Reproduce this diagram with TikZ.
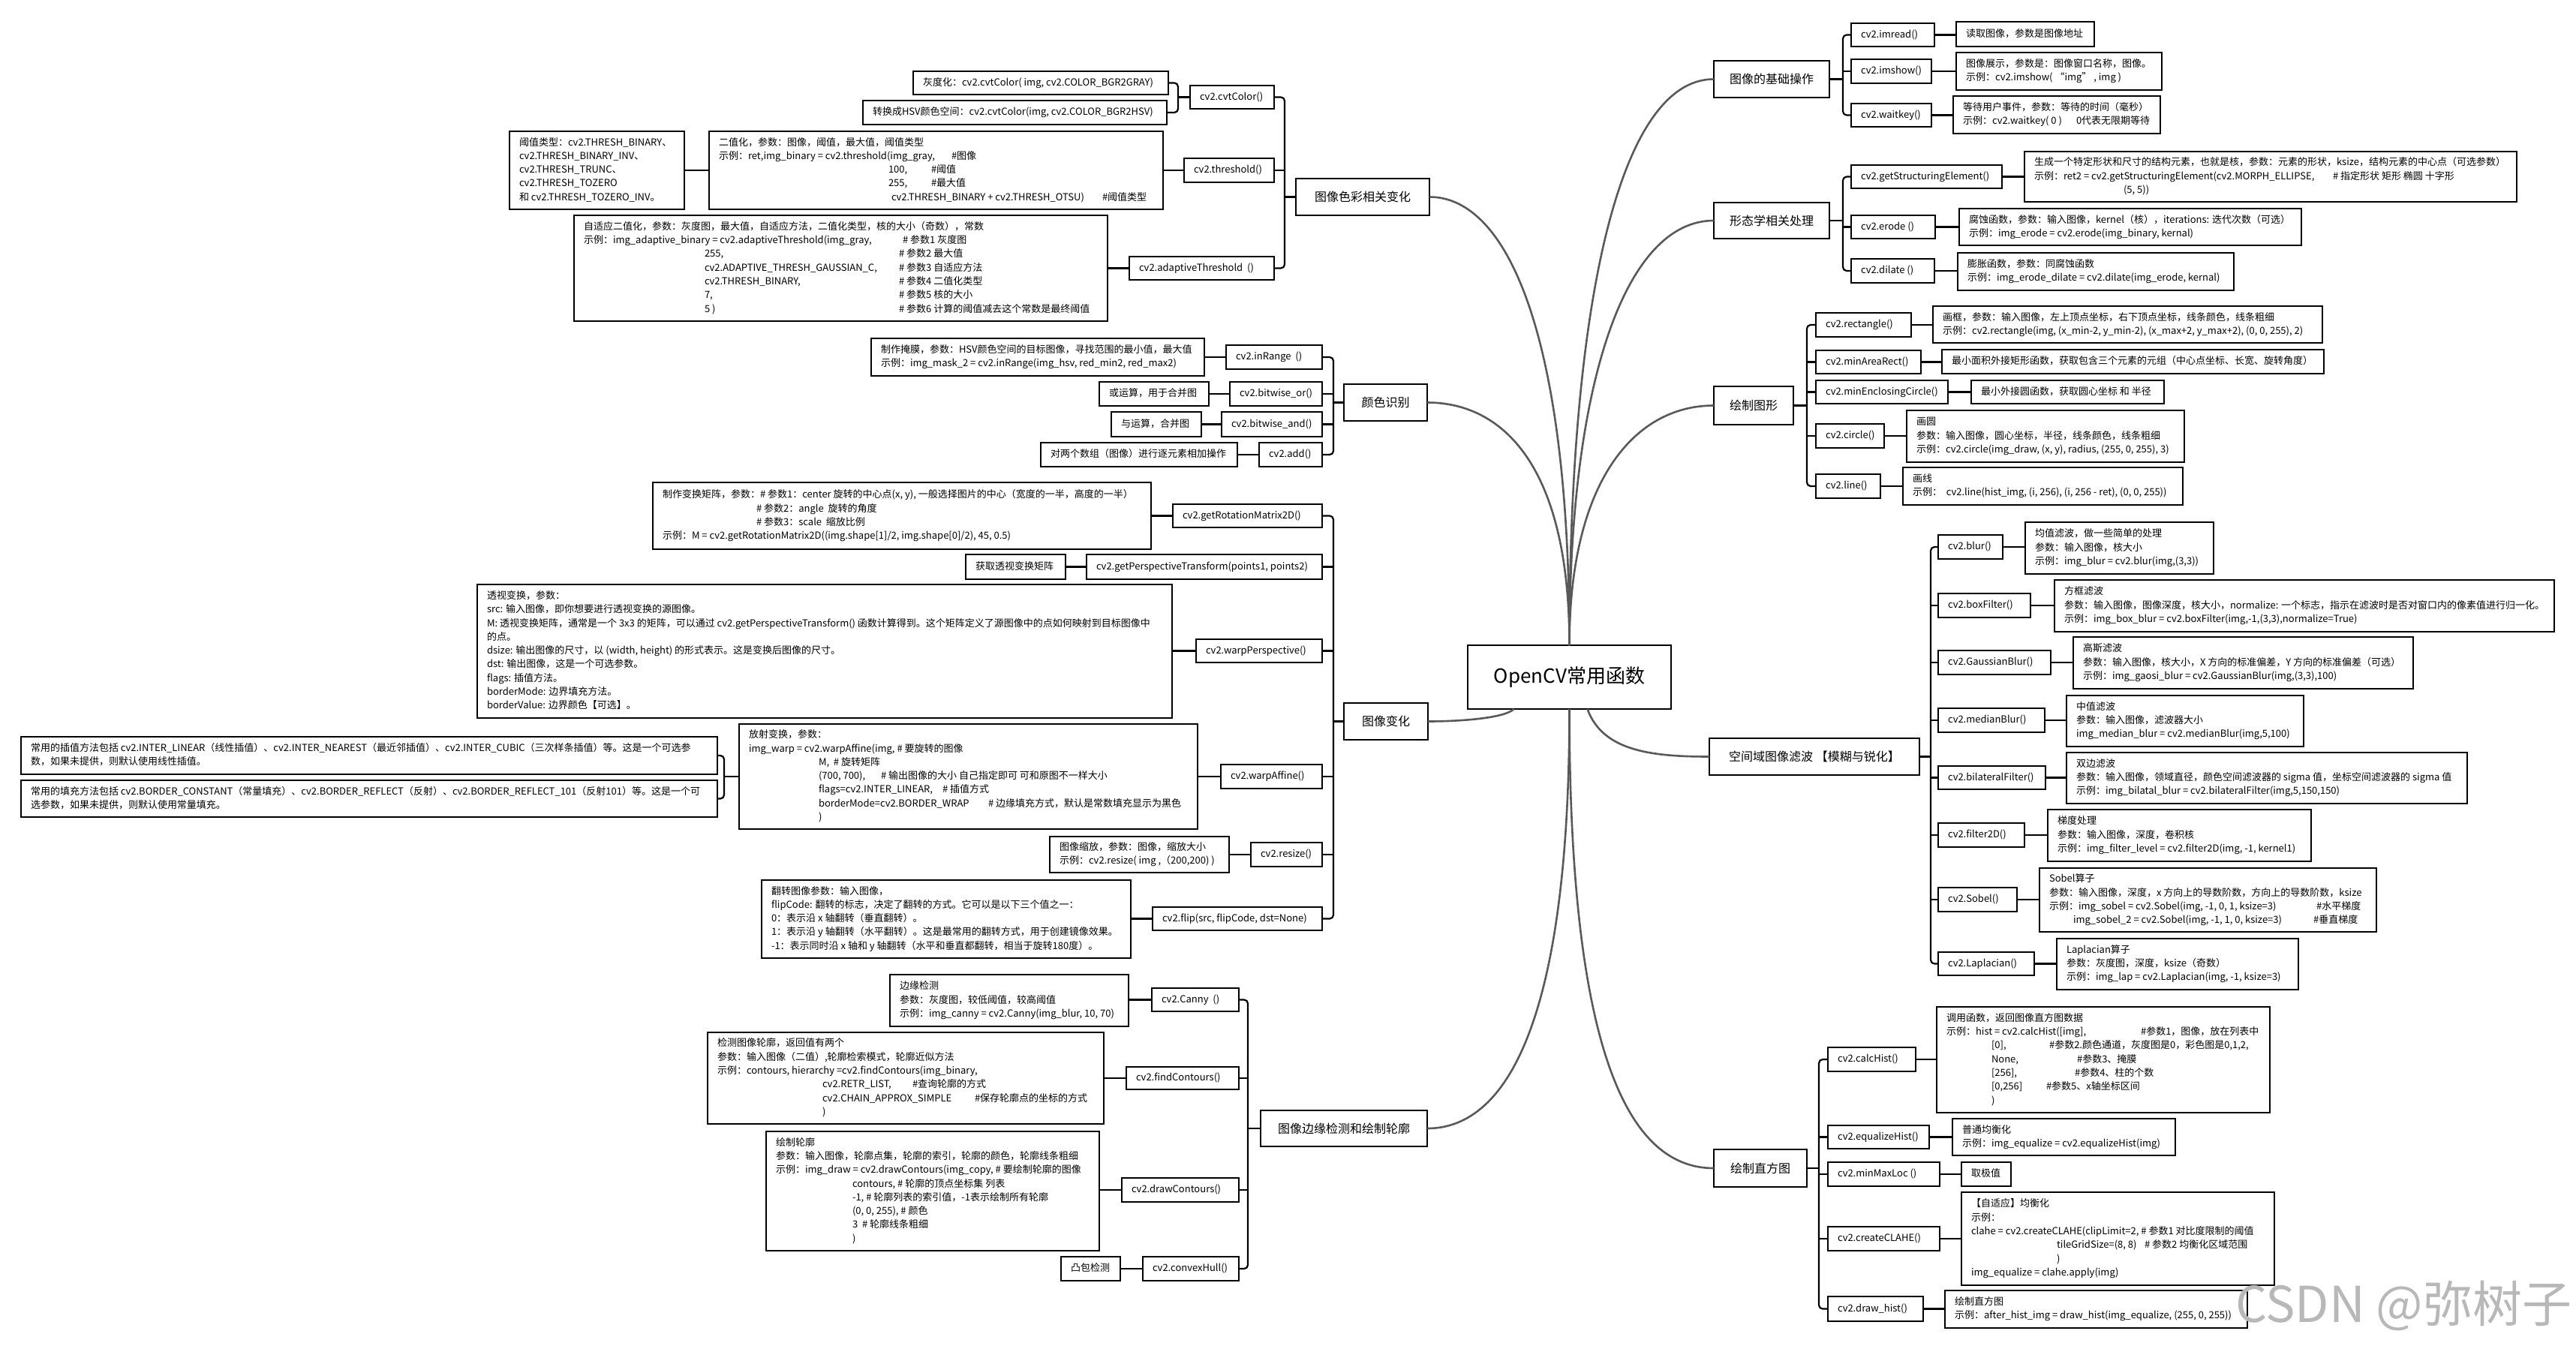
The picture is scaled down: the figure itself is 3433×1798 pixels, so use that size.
\documentclass[tikz,border=0pt]{standalone}
\usepackage{fontspec}
\setmainfont{Noto Sans CJK SC}
\newcommand\detfont{\fontsize{13pt}{18.3pt}\selectfont}
\newcommand\brfont{\fontsize{16pt}{20pt}\selectfont}
\newcommand\rootfont{\fontsize{26pt}{30pt}\selectfont}
\newcommand\atx[2]{\makebox[0pt][l]{\hspace*{#1pt}#2}}
\tikzset{
  box/.style={draw=black, line width=1.5pt, fill=white, inner xsep=13pt, inner ysep=0pt, outer sep=0pt, font=\detfont},
  branch/.style={font=\brfont},
  rootbox/.style={line width=2.2pt, font=\rootfont},
  brk/.style={draw=black, line width=2.2pt, rounded corners=5pt},
  stub/.style={draw=black, line width=2.6pt},
  maincurve/.style={draw=black!65, line width=2.6pt},
}
\newcommand\bx[7][]{%
  \pgfmathsetmacro\bxw{#5-#3}\pgfmathsetmacro\bxh{#6-#4}\pgfmathsetmacro\bxt{#5-#3-26}%
  \node[box,#1,anchor=north west,minimum width=\bxw pt,minimum height=\bxh pt] (#2) at (#3,#4)
    {\parbox{\bxt pt}{\begin{tabular}{@{}l@{}}#7\end{tabular}}};}
\newcommand\bc[7][]{%
  \pgfmathsetmacro\bxw{#5-#3}\pgfmathsetmacro\bxh{#6-#4}\pgfmathsetmacro\bxt{#5-#3-26}%
  \node[box,#1,anchor=north west,minimum width=\bxw pt,minimum height=\bxh pt] (#2) at (#3,#4)
    {\parbox{\bxt pt}{\centering #7}};}
\begin{document}
\begin{tikzpicture}[x=1pt,y=-1pt]
\path[use as bounding box, fill=white] (0,0) rectangle (3433,1798);

% ---------------- root ----------------
\bc[rootbox]{root}{1956}{860}{2227}{945}{OpenCV常用函数}

% ---------------- right: 图像的基础操作 ----------------
\bc[branch]{R1}{2284}{81}{2438}{130}{图像的基础操作}
\bx{imread}{2467}{31}{2578}{62}{cv2.imread()}
\bx{dimread}{2607}{29}{2791}{62}{读取图像，参数是图像地址}
\bx{imshow}{2467}{79}{2574}{111}{cv2.imshow()}
\bx{dimshow}{2607}{70}{2881}{120}{图像展示，参数是：图像窗口名称，图像。\\示例：cv2.imshow( “img” , img )}
\bx{waitkey}{2467}{138}{2574}{169}{cv2.waitkey()}
\bx{dwaitkey}{2603}{128}{2879}{178}{等待用户事件，参数：等待的时间（毫秒）\\\atx{0}{示例：cv2.waitkey( 0 )}\atx{151}{0代表无限期等待}}

% ---------------- right: 形态学相关处理 ----------------
\bc[branch]{R2}{2284}{270}{2438}{318}{形态学相关处理}
\bx{getse}{2467}{220}{2668}{251}{cv2.getStructuringElement()}
\bx{dgetse}{2698}{202}{3354}{269}{生成一个特定形状和尺寸的结构元素，也就是核，参数：元素的形状，ksize，结构元素的中心点（可选参数）\\\atx{0}{示例：ret2 = cv2.getStructuringElement(cv2.MORPH\_ELLIPSE,}\atx{398}{\# 指定形状 矩形 椭圆 十字形}\\\atx{119}{(5, 5))}}
\bx{erode}{2467}{287}{2579}{318}{cv2.erode ()}
\bx{derode}{2611}{278}{3067}{327}{腐蚀函数，参数：输入图像，kernel（核），iterations: 迭代次数（可选）\\示例：img\_erode = cv2.erode(img\_binary, kernal)}
\bx{dilate}{2467}{345}{2578}{377}{cv2.dilate ()}
\bx{ddilate}{2609}{337}{2977}{387}{膨胀函数，参数：同腐蚀函数\\示例：img\_erode\_dilate = cv2.dilate(img\_erode, kernal)}

% ---------------- right: 绘制图形 ----------------
\bc[branch]{R3}{2284}{515}{2390}{566}{绘制图形}
\bx{rect}{2420}{417}{2547}{449}{cv2.rectangle()}
\bx{drect}{2576}{408}{3095}{457}{画框，参数：输入图像，左上顶点坐标，右下顶点坐标，线条颜色，线条粗细\\示例：cv2.rectangle(img, (x\_min-2, y\_min-2), (x\_max+2, y\_max+2), (0, 0, 255), 2)}
\bx{minarea}{2420}{467}{2560}{498}{cv2.minAreaRect()}
\bx{dminarea}{2588}{466}{3097}{498}{最小面积外接矩形函数，获取包含三个元素的元组（中心点坐标、长宽、旋转角度）}
\bx{mincircle}{2420}{507}{2596}{538}{cv2.minEnclosingCircle()}
\bx{dmincircle}{2627}{507}{2884}{538}{最小外接圆函数，获取圆心坐标 和 半径}
\bx{circle}{2420}{565}{2511}{597}{cv2.circle()}
\bx{dcircle}{2541}{547}{2911}{616}{画圆\\参数：输入图像，圆心坐标，半径，线条颜色，线条粗细\\示例：cv2.circle(img\_draw, (x, y), radius, (255, 0, 255), 3)}
\bx{cline}{2420}{632}{2506}{664}{cv2.line()}
\bx{dcline}{2536}{623}{2909}{673}{画线\\示例：\ \ cv2.line(hist\_img, (i, 256), (i, 256 - ret), (0, 0, 255))}

% ---------------- right: 空间域图像滤波 ----------------
\bc[branch]{R4}{2278}{984}{2558}{1033}{空间域图像滤波 【模糊与锐化】}
\bx{blur}{2583}{713}{2669}{745}{cv2.blur()}
\bx{dblur}{2699}{696}{2950}{765}{均值滤波，做一些简单的处理\\参数：输入图像，核大小\\示例：img\_blur = cv2.blur(img,(3,3))}
\bx{boxf}{2583}{791}{2706}{823}{cv2.boxFilter()}
\bx{dboxf}{2738}{773}{3404}{842}{方框滤波\\参数：输入图像，图像深度，核大小，normalize: 一个标志，指示在滤波时是否对窗口内的像素值进行归一化。\\示例：img\_box\_blur = cv2.boxFilter(img,-1,(3,3),normalize=True)}
\bx{gauss}{2583}{867}{2733}{899}{cv2.GaussianBlur()}
\bx{dgauss}{2763}{849}{3216}{918}{高斯滤波\\参数：输入图像，核大小，X 方向的标准偏差，Y 方向的标准偏差（可选）\\示例：img\_gaosi\_blur = cv2.GaussianBlur(img,(3,3),100)}
\bx{median}{2583}{944}{2725}{976}{cv2.medianBlur()}
\bx{dmedian}{2754}{927}{3070}{995}{中值滤波\\参数：输入图像，滤波器大小\\img\_median\_blur = cv2.medianBlur(img,5,100)}
\bx{bilat}{2583}{1021}{2726}{1052}{cv2.bilateralFilter()}
\bx{dbilat}{2754}{1003}{3288}{1071}{双边滤波\\参数：输入图像，领域直径，颜色空间滤波器的 sigma 值，坐标空间滤波器的 sigma 值\\示例：img\_bilatal\_blur = cv2.bilateralFilter(img,5,150,150)}
\bx{ftwod}{2583}{1097}{2698}{1129}{cv2.filter2D()}
\bx{dftwod}{2729}{1079}{3080}{1148}{梯度处理\\参数：输入图像，深度，卷积核\\示例：img\_filter\_level = cv2.filter2D(img, -1, kernel1)}
\bx{sobel}{2583}{1183}{2688}{1215}{cv2.Sobel()}
\bx{dsobel}{2718}{1157}{3167}{1242}{Sobel算子\\参数：输入图像，深度，x 方向上的导数阶数，方向上的导数阶数，ksize\\\atx{0}{示例：img\_sobel = cv2.Sobel(img, -1, 0, 1, ksize=3)}\atx{356}{\#水平梯度}\\\atx{32}{img\_sobel\_2 = cv2.Sobel(img, -1, 1, 0, ksize=3)}\atx{352}{\#垂直梯度}}
\bx{lap}{2583}{1269}{2711}{1300}{cv2.Laplacian()}
\bx{dlap}{2741}{1251}{3063}{1319}{Laplacian算子\\参数：灰度图，深度，ksize（奇数）\\示例：img\_lap = cv2.Laplacian(img, -1, ksize=3)}

% ---------------- right: 绘制直方图 ----------------
\bc[branch]{R5}{2284}{1532}{2408}{1582}{绘制直方图}
\bx{calc}{2436}{1396}{2553}{1428}{cv2.calcHist()}
\bx{dcalc}{2581}{1342}{3025}{1483}{调用函数，返回图像直方图数据\\\atx{0}{示例：hist = cv2.calcHist([img],}\atx{259}{\#参数1，图像，放在列表中}\\\atx{60}{[0],}\atx{137}{\#参数2.颜色通道，灰度图是0，彩色图是0,1,2,}\\\atx{60}{None,}\atx{174}{\#参数3、掩膜}\\\atx{60}{[256],}\atx{171}{\#参数4、柱的个数}\\\atx{60}{[0,256]}\atx{133}{\#参数5、x轴坐标区间}\\\atx{60}{)}}
\bx{eqh}{2436}{1500}{2571}{1531}{cv2.equalizeHist()}
\bx{deqh}{2602}{1491}{2899}{1540}{普通均衡化\\示例：img\_equalize = cv2.equalizeHist(img)}
\bx{mml}{2436}{1549}{2585}{1581}{cv2.minMaxLoc ()}
\bx{dmml}{2614}{1549}{2680}{1581}{取极值}
\bx{clahe}{2436}{1635}{2585}{1667}{cv2.createCLAHE()}
\bx{dclahe}{2614}{1589}{3031}{1713}{【自适应】均衡化\\示例：\\clahe = cv2.createCLAHE(clipLimit=2, \# 参数1 对比度限制的阈值\\\atx{114}{tileGridSize=(8, 8)}\atx{231}{\# 参数2 均衡化区域范围}\\\atx{114}{)}\\img\_equalize = clahe.apply(img)}
\bx{dhist}{2436}{1728}{2563}{1761}{cv2.draw\_hist()}
\bx{ddhist}{2592}{1720}{2995}{1770}{绘制直方图\\示例：after\_hist\_img = draw\_hist(img\_equalize, (255, 0, 255))}

% ---------------- left: 图像色彩相关变化 ----------------
\bc[branch]{L1}{1727}{238}{1905}{287}{图像色彩相关变化}
\bx{cvt}{1586}{114}{1698}{145}{cv2.cvtColor()}
\bx{gray}{1217}{95}{1557}{126}{灰度化：cv2.cvtColor( img, cv2.COLOR\_BGR2GRAY)}
\bx{hsv}{1150}{134}{1555}{166}{转换成HSV颜色空间：cv2.cvtColor(img, cv2.COLOR\_BGR2HSV)}
\bx{thr}{1578}{211}{1698}{243}{cv2.threshold()}
\bx{dthr}{945}{175}{1550}{279}{二值化，参数：图像，阈值，最大值，阈值类型\\\atx{0}{示例：ret,img\_binary = cv2.threshold(img\_gray,}\atx{310}{\#图像}\\\atx{226}{100,}\atx{283}{\#阈值}\\\atx{226}{255,}\atx{283}{\#最大值}\\\atx{230}{cv2.THRESH\_BINARY + cv2.THRESH\_OTSU)}\atx{511}{\#阈值类型}}
\bx{ttypes}{679}{175}{912}{279}{阈值类型：cv2.THRESH\_BINARY、\\cv2.THRESH\_BINARY\_INV、\\cv2.THRESH\_TRUNC、\\cv2.THRESH\_TOZERO\\和 cv2.THRESH\_TOZERO\_INV。}
\bx{adap}{1505}{342}{1698}{373}{cv2.adaptiveThreshold\ \ ()}
\bx{dadap}{765}{287}{1476}{428}{自适应二值化，参数：灰度图，最大值，自适应方法，二值化类型，核的大小（奇数），常数\\\atx{0}{示例：img\_adaptive\_binary = cv2.adaptiveThreshold(img\_gray,}\atx{425}{\# 参数1 灰度图}\\\atx{161}{255,}\atx{420}{\# 参数2 最大值}\\\atx{161}{cv2.ADAPTIVE\_THRESH\_GAUSSIAN\_C,}\atx{420}{\# 参数3 自适应方法}\\\atx{161}{cv2.THRESH\_BINARY,}\atx{420}{\# 参数4 二值化类型}\\\atx{161}{7,}\atx{420}{\# 参数5 核的大小}\\\atx{161}{5 )}\atx{420}{\# 参数6 计算的阈值减去这个常数是最终阈值}}

% ---------------- left: 颜色识别 ----------------
\bc[branch]{L2}{1791}{512}{1902}{561}{颜色识别}
\bx{inrange}{1634}{460}{1762}{492}{cv2.inRange\ \ ()}
\bx{dinrange}{1161}{451}{1605}{501}{制作掩膜，参数：HSV颜色空间的目标图像，寻找范围的最小值，最大值\\示例：img\_mask\_2 = cv2.inRange(img\_hsv, red\_min2, red\_max2)}
\bx{bor}{1639}{509}{1762}{541}{cv2.bitwise\_or()}
\bx{dbor}{1465}{509}{1611}{541}{或运算，用于合并图}
\bx{band}{1628}{549}{1762}{582}{cv2.bitwise\_and()}
\bx{dband}{1481}{549}{1601}{582}{与运算，合并图}
\bx{add}{1678}{590}{1762}{622}{cv2.add()}
\bx{dadd}{1387}{590}{1649}{622}{对两个数组（图像）进行逐元素相加操作}

% ---------------- left: 图像变化 ----------------
\bc[branch]{L3}{1791}{937}{1903}{986}{图像变化}
\bx{rot}{1563}{672}{1762}{703}{cv2.getRotationMatrix2D()}
\bx{drot}{870}{643}{1534}{732}{制作变换矩阵，参数：\# 参数1：center 旋转的中心点(x, y), 一般选择图片的中心（宽度的一半，高度的一半）\\\atx{125}{\# 参数2：angle\ \ 旋转的角度}\\\atx{125}{\# 参数3：scale\ \ 缩放比例}\\示例：M = cv2.getRotationMatrix2D((img.shape[1]/2, img.shape[0]/2), 45, 0.5)}
\bx{gpt}{1448}{739}{1762}{772}{cv2.getPerspectiveTransform(points1, points2)}
\bx{dgpt}{1287}{739}{1420}{772}{获取透视变换矩阵}
\bx{wp}{1594}{852}{1762}{883}{cv2.warpPerspective()}
\bx{dwp}{636}{779}{1562}{957}{透视变换，参数：\\src: 输入图像，即你想要进行透视变换的源图像。\\M: 透视变换矩阵，通常是一个 3x3 的矩阵，可以通过 cv2.getPerspectiveTransform() 函数计算得到。这个矩阵定义了源图像中的点如何映射到目标图像中\\的点。\\dsize: 输出图像的尺寸，以 (width, height) 的形式表示。这是变换后图像的尺寸。\\dst: 输出图像，这是一个可选参数。\\flags: 插值方法。\\borderMode: 边界填充方法。\\borderValue: 边界颜色【可选】。}
\bx{wa}{1627}{1019}{1762}{1051}{cv2.warpAffine()}
\bx{dwa}{985}{965}{1596}{1105}{放射变换，参数：\\img\_warp = cv2.warpAffine(img, \# 要旋转的图像\\\atx{93}{M,\ \ \# 旋转矩阵}\\\atx{93}{(700, 700),}\atx{176}{\# 输出图像的大小 自己指定即可 可和原图不一样大小}\\\atx{93}{flags=cv2.INTER\_LINEAR,}\atx{258}{\# 插值方式}\\\atx{93}{borderMode=cv2.BORDER\_WRAP}\atx{319}{\# 边缘填充方式，默认是常数填充显示为黑色}\\\atx{93}{)}}
\bx{interp}{28}{982}{956}{1032}{常用的插值方法包括 cv2.INTER\_LINEAR（线性插值）、cv2.INTER\_NEAREST（最近邻插值）、cv2.INTER\_CUBIC（三次样条插值）等。这是一个可选参\\数，如果未提供，则默认使用线性插值。}
\bx{border}{28}{1040}{956}{1089}{常用的填充方法包括 cv2.BORDER\_CONSTANT（常量填充）、cv2.BORDER\_REFLECT（反射）、cv2.BORDER\_REFLECT\_101（反射101）等。这是一个可\\选参数，如果未提供，则默认使用常量填充。}
\bx{rsz}{1667}{1123}{1762}{1155}{cv2.resize()}
\bx{drsz}{1399}{1115}{1638}{1163}{图像缩放，参数：图像，缩放大小\\示例：cv2.resize( img ,（200,200) )}
\bx{flip}{1536}{1209}{1762}{1240}{cv2.flip(src, flipCode, dst=None)}
\bx{dflip}{1015}{1173}{1507}{1277}{翻转图像参数：输入图像，\\flipCode: 翻转的标志，决定了翻转的方式。它可以是以下三个值之一：\\0：表示沿 x 轴翻转（垂直翻转）。\\1：表示沿 y 轴翻转（水平翻转）。这是最常用的翻转方式，用于创建镜像效果。\\-1：表示同时沿 x 轴和 y 轴翻转（水平和垂直都翻转，相当于旋转180度）。}

% ---------------- left: 图像边缘检测和绘制轮廓 ----------------
\bc[branch]{L4}{1680}{1480}{1902}{1528}{图像边缘检测和绘制轮廓}
\bx{canny}{1535}{1317}{1651}{1348}{cv2.Canny\ \ ()}
\bx{dcanny}{1186}{1299}{1504}{1368}{边缘检测\\参数：灰度图，较低阈值，较高阈值\\示例：img\_canny = cv2.Canny(img\_blur, 10, 70)}
\bx{fc}{1501}{1422}{1651}{1452}{cv2.findContours()}
\bx{dfc}{943}{1376}{1471}{1498}{检测图像轮廓，返回值有两个\\参数：输入图像（二值）,轮廓检索模式，轮廓近似方法\\示例：contours, hierarchy =cv2.findContours(img\_binary,\\\atx{140}{cv2.RETR\_LIST,}\atx{260}{\#查询轮廓的方式}\\\atx{140}{cv2.CHAIN\_APPROX\_SIMPLE}\atx{343}{\#保存轮廓点的坐标的方式}\\\atx{140}{)}}
\bx{dc}{1495}{1570}{1651}{1602}{cv2.drawContours()}
\bx{ddc}{1021}{1508}{1465}{1667}{绘制轮廓\\参数：输入图像，轮廓点集，轮廓的索引，轮廓的颜色，轮廓线条粗细\\示例：img\_draw = cv2.drawContours(img\_copy, \# 要绘制轮廓的图像\\\atx{102}{contours, \# 轮廓的顶点坐标集 列表}\\\atx{102}{-1, \# 轮廓列表的索引值，-1表示绘制所有轮廓}\\\atx{102}{(0, 0, 255), \# 颜色}\\\atx{102}{3\ \ \# 轮廓线条粗细}\\\atx{102}{)}}
\bx{hull}{1523}{1675}{1651}{1707}{cv2.convexHull()}
\bx{dhull}{1414}{1675}{1493}{1707}{凸包检测}

% ---------------- main curves ----------------
\draw[maincurve] (root.north) .. controls +(0,-410) and +(105,0) .. (L1.east);
\draw[maincurve] (root.north) .. controls +(0,-240) and +(100,0) .. (L2.east);
\draw[maincurve] (root.north) .. controls +(0,-460) and +(-125,0) .. (R1.west);
\draw[maincurve] (root.north) .. controls +(0,-360) and +(-115,0) .. (R2.west);
\draw[maincurve] (root.north) .. controls +(0,-220) and +(-105,0) .. (R3.west);
\draw[maincurve] (root.south) .. controls +(0,405) and +(110,0) .. (L4.east);
\draw[maincurve] (root.south) .. controls +(0,455) and +(-115,0) .. (R5.west);
\draw[maincurve] (root.south) ++(-74,0) .. controls +(-12,12) and +(45,0) .. (L3.east);
\draw[maincurve] (root.south) ++(24,0) .. controls +(20,55) and +(-80,0) .. (R4.west);

% ---------------- right brackets ----------------
\path (R1.east) ++(18,0) coordinate (j1);
\draw[brk] (R1.east) -- (j1);
\draw[brk] (imread.west) -| (j1) |- (waitkey.west);
\draw[brk] (j1 |- imshow.west) -- (imshow.west);
\draw[stub] (imread.east) -- (imread.east -| dimread.west);
\draw[stub] (imshow.east) -- (imshow.east -| dimshow.west);
\draw[stub] (waitkey.east) -- (waitkey.east -| dwaitkey.west);

\path (R2.east) ++(18,0) coordinate (j2);
\draw[brk] (R2.east) -- (j2);
\draw[brk] (getse.west) -| (j2) |- (dilate.west);
\draw[brk] (j2 |- erode.west) -- (erode.west);
\draw[stub] (getse.east) -- (getse.east -| dgetse.west);
\draw[stub] (erode.east) -- (erode.east -| derode.west);
\draw[stub] (dilate.east) -- (dilate.east -| ddilate.west);

\path (R3.east) ++(18,0) coordinate (j3);
\draw[brk] (R3.east) -- (j3);
\draw[brk] (rect.west) -| (j3) |- (cline.west);
\draw[brk] (j3 |- minarea.west) -- (minarea.west);
\draw[brk] (j3 |- mincircle.west) -- (mincircle.west);
\draw[brk] (j3 |- circle.west) -- (circle.west);
\draw[stub] (rect.east) -- (rect.east -| drect.west);
\draw[stub] (minarea.east) -- (minarea.east -| dminarea.west);
\draw[stub] (mincircle.east) -- (mincircle.east -| dmincircle.west);
\draw[stub] (circle.east) -- (circle.east -| dcircle.west);
\draw[stub] (cline.east) -- (cline.east -| dcline.west);

\path (R4.east) ++(15,0) coordinate (j4);
\draw[brk] (R4.east) -- (j4);
\draw[brk] (blur.west) -| (j4) |- (lap.west);
\draw[brk] (j4 |- boxf.west) -- (boxf.west);
\draw[brk] (j4 |- gauss.west) -- (gauss.west);
\draw[brk] (j4 |- median.west) -- (median.west);
\draw[brk] (j4 |- bilat.west) -- (bilat.west);
\draw[brk] (j4 |- ftwod.west) -- (ftwod.west);
\draw[brk] (j4 |- sobel.west) -- (sobel.west);
\draw[stub] (blur.east) -- (blur.east -| dblur.west);
\draw[stub] (boxf.east) -- (boxf.east -| dboxf.west);
\draw[stub] (gauss.east) -- (gauss.east -| dgauss.west);
\draw[stub] (median.east) -- (median.east -| dmedian.west);
\draw[stub] (bilat.east) -- (bilat.east -| dbilat.west);
\draw[stub] (ftwod.east) -- (ftwod.east -| dftwod.west);
\draw[stub] (sobel.east) -- (sobel.east -| dsobel.west);
\draw[stub] (lap.east) -- (lap.east -| dlap.west);

\path (R5.east) ++(16,0) coordinate (j5);
\draw[brk] (R5.east) -- (j5);
\draw[brk] (calc.west) -| (j5) |- (dhist.west);
\draw[brk] (j5 |- eqh.west) -- (eqh.west);
\draw[brk] (j5 |- mml.west) -- (mml.west);
\draw[brk] (j5 |- clahe.west) -- (clahe.west);
\draw[stub] (calc.east) -- (calc.east -| dcalc.west);
\draw[stub] (eqh.east) -- (eqh.east -| deqh.west);
\draw[stub] (mml.east) -- (mml.east -| dmml.west);
\draw[stub] (clahe.east) -- (clahe.east -| dclahe.west);
\draw[stub] (dhist.east) -- (dhist.east -| ddhist.west);

% ---------------- left brackets ----------------
\path (L1.west) ++(-15,0) coordinate (k1);
\draw[brk] (L1.west) -- (k1);
\draw[brk] (cvt.east) -| (k1) |- (adap.east);
\draw[brk] (k1 |- thr.east) -- (thr.east);
\path (cvt.west) ++(-16,0) coordinate (c1);
\draw[brk] (cvt.west) -- (c1);
\draw[brk] (gray.east) -| (c1) |- (hsv.east);
\draw[stub] (thr.west) -- (thr.west -| dthr.east);
\draw[stub] (dthr.west) -- (dthr.west -| ttypes.east);
\draw[stub] (adap.west) -- (adap.west -| dadap.east);

\path (L2.west) ++(-14,0) coordinate (k2);
\draw[brk] (L2.west) -- (k2);
\draw[brk] (inrange.east) -| (k2) |- (add.east);
\draw[brk] (k2 |- bor.east) -- (bor.east);
\draw[brk] (k2 |- band.east) -- (band.east);
\draw[stub] (inrange.west) -- (inrange.west -| dinrange.east);
\draw[stub] (bor.west) -- (bor.west -| dbor.east);
\draw[stub] (band.west) -- (band.west -| dband.east);
\draw[stub] (add.west) -- (add.west -| dadd.east);

\path (L3.west) ++(-14,0) coordinate (k3);
\draw[brk] (L3.west) -- (k3);
\draw[brk] (rot.east) -| (k3) |- (flip.east);
\draw[brk] (k3 |- gpt.east) -- (gpt.east);
\draw[brk] (k3 |- wp.east) -- (wp.east);
\draw[brk] (k3 |- wa.east) -- (wa.east);
\draw[brk] (k3 |- rsz.east) -- (rsz.east);
\draw[stub] (rot.west) -- (rot.west -| drot.east);
\draw[stub] (gpt.west) -- (gpt.west -| dgpt.east);
\draw[stub] (wp.west) -- (wp.west -| dwp.east);
\draw[stub] (wa.west) -- (wa.west -| dwa.east);
\draw[stub] (rsz.west) -- (rsz.west -| drsz.east);
\draw[stub] (flip.west) -- (flip.west -| dflip.east);
\path (dwa.west) ++(-20,0) coordinate (c2);
\draw[brk] (dwa.west) -- (c2);
\draw[brk] (interp.east) -| (c2) |- (border.east);

\path (L4.west) ++(-17,0) coordinate (k4);
\draw[brk] (L4.west) -- (k4);
\draw[brk] (canny.east) -| (k4) |- (hull.east);
\draw[brk] (k4 |- fc.east) -- (fc.east);
\draw[brk] (k4 |- dc.east) -- (dc.east);
\draw[stub] (canny.west) -- (canny.west -| dcanny.east);
\draw[stub] (fc.west) -- (fc.west -| dfc.east);
\draw[stub] (dc.west) -- (dc.west -| ddc.east);
\draw[stub] (hull.west) -- (hull.west -| dhull.east);

% ---------------- watermark ----------------
\node[font=\fontsize{66pt}{70pt}\selectfont, text=black!28, inner sep=0pt] (wm) at (3203,1740) {CSDN @弥树子};
\end{tikzpicture}
\end{document}
